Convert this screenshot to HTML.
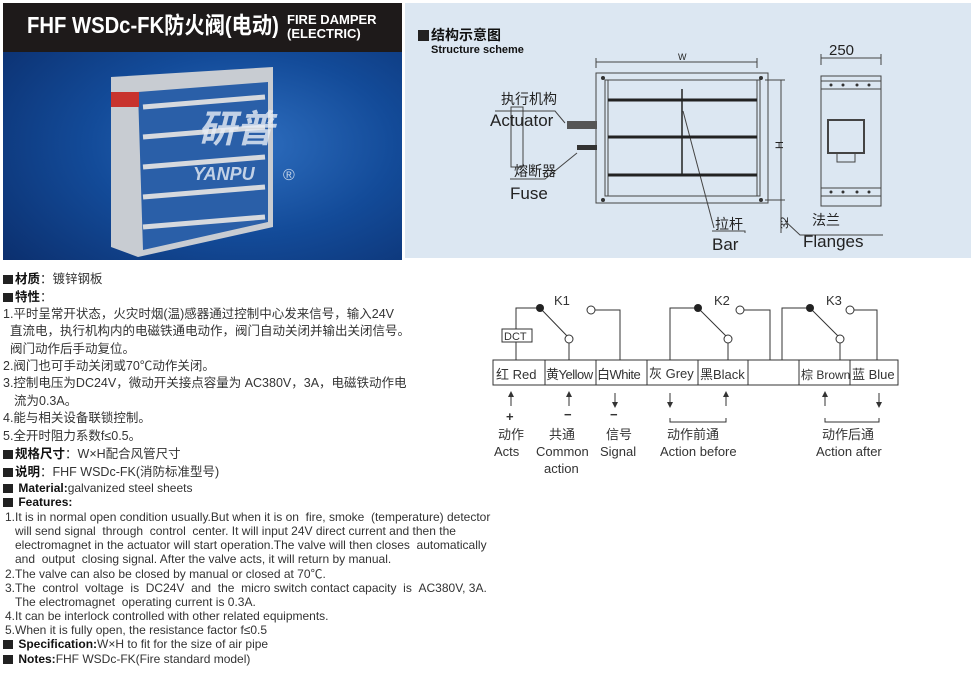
<!DOCTYPE html>
<html><head><meta charset="utf-8"><style>
body{margin:0;width:974px;height:680px;background:#fff;position:relative;overflow:hidden;font-family:"Liberation Sans","Noto Sans CJK SC",sans-serif;color:#333}
.a{position:absolute;white-space:nowrap}
.cn{font-size:12.5px;line-height:17px}
.en{font-size:12px;line-height:14.2px}
.sq{display:inline-block;width:10px;height:9px;background:#222;margin-right:2px;vertical-align:-1px}
b{color:#111}
</style></head><body>
<div class="a" style="left:3px;top:3px;width:399px;height:257px;background:radial-gradient(ellipse at 60% 55%,#2f6fc0 0%,#134b99 45%,#0a2a66 100%)"></div>
<div class="a" style="left:3px;top:3px;width:399px;height:49px;background:#1e1a1a"></div>
<div class="a" style="left:27px;top:12px;color:#fff;font-weight:bold;font-size:23px;line-height:27px;transform:scaleX(0.88);transform-origin:0 0">FHF WSDc-FK防火阀(电动)</div>
<div class="a" style="left:287px;top:13px;color:#fff;font-weight:bold;font-size:13px;line-height:14px">FIRE DAMPER<br>(ELECTRIC)</div>
<svg class="a" style="left:3px;top:52px" width="399" height="208">
<polygon points="108,25 270,15 270,175 135,205 108,195" fill="#c8ccd2"/>
<polygon points="135,40 265,30 265,170 140,198" fill="#2a5fa8"/>
<g stroke="#d6d9de" stroke-width="5"><line x1="140" y1="55" x2="262" y2="45"/><line x1="140" y1="85" x2="262" y2="75"/><line x1="140" y1="115" x2="262" y2="105"/><line x1="140" y1="145" x2="262" y2="135"/><line x1="140" y1="175" x2="262" y2="165"/></g>
<rect x="108" y="40" width="28" height="15" fill="#c8332e"/>
<text x="195" y="90" font-size="38" font-weight="bold" fill="#e8eef6" opacity=".8" font-style="italic" font-family="Noto Sans CJK SC">研普</text>
<text x="190" y="128" font-size="18" font-weight="bold" fill="#e8eef6" opacity=".8" font-style="italic">YANPU</text>
<text x="280" y="128" font-size="16" fill="#e8eef6" opacity=".8">®</text>
</svg>
<div class="a" style="left:405px;top:3px;width:566px;height:255px;background:#dce7f2"></div>
<div class="a" style="left:418px;top:27px;font-weight:bold;font-size:14px;line-height:16px;color:#111"><span class="sq" style="width:11px;height:11px"></span>结构示意图</div>
<div class="a" style="left:431px;top:44px;font-weight:bold;font-size:11px;line-height:13px;color:#111">Structure scheme</div>
<svg class="a" style="left:405px;top:3px" width="566" height="255" font-family="DejaVu Sans, sans-serif">
<g stroke="#444" fill="none" stroke-width="1">
<line x1="191" y1="59" x2="352" y2="59"/><line x1="191" y1="55" x2="191" y2="65"/><line x1="352" y1="55" x2="352" y2="65"/>
<rect x="191" y="70" width="172" height="130"/><rect x="200" y="77" width="155" height="116"/>
<line x1="203" y1="77" x2="203" y2="193"/><line x1="352" y1="77" x2="352" y2="193"/>
<line x1="360" y1="77" x2="380" y2="77"/><line x1="360" y1="197" x2="380" y2="197"/><line x1="376" y1="77" x2="376" y2="230"/>
<line x1="416" y1="55" x2="476" y2="55"/><line x1="416" y1="51" x2="416" y2="62"/><line x1="476" y1="51" x2="476" y2="62"/>
<rect x="416" y="73" width="60" height="130"/><line x1="416" y1="78" x2="476" y2="78"/><line x1="416" y1="86" x2="476" y2="86"/>
<line x1="416" y1="185" x2="476" y2="185"/><line x1="416" y1="193" x2="476" y2="193"/>
<rect x="423" y="117" width="36" height="33" stroke-width="2"/><rect x="432" y="150" width="18" height="9"/>
<polyline points="90,108 150,108 160,120"/><polyline points="105,176 140,176 172,150"/>
<polyline points="307,228 340,228 340,230"/><line x1="278" y1="108" x2="309" y2="225"/>
<polyline points="380,218 395,232 478,232"/>
<rect x="106" y="104" width="12" height="60"/>
</g>
<g stroke="#222" stroke-width="3"><line x1="203" y1="97" x2="352" y2="97"/><line x1="203" y1="134" x2="352" y2="134"/><line x1="203" y1="172" x2="352" y2="172"/></g>
<line x1="277" y1="86" x2="277" y2="172" stroke="#222" stroke-width="1.5"/>
<rect x="162" y="118" width="30" height="8" fill="#555"/><rect x="172" y="142" width="20" height="5" fill="#333"/>
<g fill="#333"><circle cx="198" cy="75" r="2"/><circle cx="356" cy="75" r="2"/><circle cx="198" cy="197" r="2"/><circle cx="356" cy="197" r="2"/>
<circle cx="426" cy="82" r="1.5"/><circle cx="438" cy="82" r="1.5"/><circle cx="452" cy="82" r="1.5"/><circle cx="464" cy="82" r="1.5"/>
<circle cx="426" cy="189" r="1.5"/><circle cx="438" cy="189" r="1.5"/><circle cx="452" cy="189" r="1.5"/><circle cx="464" cy="189" r="1.5"/></g>
<g fill="#222" font-family="Liberation Sans, Noto Sans CJK SC, sans-serif">
<text x="273" y="57" font-size="9">W</text>
<text x="424" y="52" font-size="15">250</text>
<text x="96" y="101" font-size="14">执行机构</text>
<text x="85" y="123" font-size="17">Actuator</text>
<text x="109" y="173" font-size="14">熔断器</text>
<text x="105" y="196" font-size="17">Fuse</text>
<text x="310" y="226" font-size="14">拉杆</text>
<text x="307" y="247" font-size="17">Bar</text>
<text x="407" y="222" font-size="14">法兰</text>
<text x="398" y="244" font-size="17">Flanges</text>
<text x="0" y="0" font-size="11" transform="translate(378,146) rotate(-90)">H</text>
<text x="0" y="0" font-size="11" transform="translate(383,226) rotate(-90)">32</text>
</g>
</svg>
<div class="a cn" style="left:3px;top:271px"><span class="sq"></span><b>材质</b>：镀锌钢板</div>
<div class="a cn" style="left:3px;top:289px"><span class="sq"></span><b>特性</b>：</div>
<div class="a cn" style="left:3px;top:306px">1.平时呈常开状态，火灾时烟(温)感器通过控制中心发来信号，输入24V</div>
<div class="a cn" style="left:10px;top:323px">直流电，执行机构内的电磁铁通电动作，阀门自动关闭并输出关闭信号。</div>
<div class="a cn" style="left:10px;top:341px">阀门动作后手动复位。</div>
<div class="a cn" style="left:3px;top:358px">2.阀门也可手动关闭或70℃动作关闭。</div>
<div class="a cn" style="left:3px;top:375px">3.控制电压为DC24V，微动开关接点容量为 AC380V，3A，电磁铁动作电</div>
<div class="a cn" style="left:14px;top:393px">流为0.3A。</div>
<div class="a cn" style="left:3px;top:410px">4.能与相关设备联锁控制。</div>
<div class="a cn" style="left:3px;top:428px">5.全开时阻力系数f≤0.5。</div>
<div class="a cn" style="left:3px;top:446px"><span class="sq"></span><b>规格尺寸</b>：W×H配合风管尺寸</div>
<div class="a cn" style="left:3px;top:464px"><span class="sq"></span><b>说明</b>：FHF WSDc-FK(消防标准型号)</div>
<div class="a en" style="left:3px;top:481px"><span class="sq"></span> <b>Material:</b>galvanized steel sheets</div>
<div class="a en" style="left:3px;top:495px"><span class="sq"></span> <b>Features:</b></div>
<div class="a en" style="left:5px;top:510px">1.It is in normal open condition usually.But when it is on &nbsp;fire, smoke &nbsp;(temperature) detector</div>
<div class="a en" style="left:15px;top:524px">will send signal &nbsp;through &nbsp;control &nbsp;center. It will input 24V direct current and then the</div>
<div class="a en" style="left:15px;top:538px">electromagnet in the actuator will start operation.The valve will then closes &nbsp;automatically</div>
<div class="a en" style="left:15px;top:552px">and &nbsp;output &nbsp;closing signal. After the valve acts, it will return by manual.</div>
<div class="a en" style="left:5px;top:567px">2.The valve can also be closed by manual or closed at 70℃.</div>
<div class="a en" style="left:5px;top:581px">3.The &nbsp;control &nbsp;voltage &nbsp;is &nbsp;DC24V &nbsp;and &nbsp;the &nbsp;micro switch contact capacity &nbsp;is &nbsp;AC380V, 3A.</div>
<div class="a en" style="left:15px;top:595px">The electromagnet &nbsp;operating current is 0.3A.</div>
<div class="a en" style="left:5px;top:609px">4.It can be interlock controlled with other related equipments.</div>
<div class="a en" style="left:5px;top:623px">5.When it is fully open, the resistance factor f≤0.5</div>
<div class="a en" style="left:3px;top:637px"><span class="sq"></span> <b>Specification:</b>W×H to fit for the size of air pipe</div>
<div class="a en" style="left:3px;top:652px"><span class="sq"></span> <b>Notes:</b>FHF WSDc-FK(Fire standard model)</div>
<svg class="a" style="left:490px;top:285px" width="420" height="195" font-family="Liberation Sans, Noto Sans CJK SC, sans-serif">
<g stroke="#333" fill="none" stroke-width="1">
<rect x="3" y="75" width="405" height="25"/>
<line x1="55" y1="75" x2="55" y2="100"/><line x1="106" y1="75" x2="106" y2="100"/><line x1="157" y1="75" x2="157" y2="100"/><line x1="208" y1="75" x2="208" y2="100"/><line x1="258" y1="75" x2="258" y2="100"/><line x1="309" y1="75" x2="309" y2="100"/><line x1="360" y1="75" x2="360" y2="100"/>
<polyline points="26,75 26,23 50,23"/><line x1="50" y1="23" x2="79" y2="53"/><line x1="79" y1="57" x2="79" y2="75"/>
<polyline points="105,25 130,25 130,75"/>
<polyline points="180,75 180,23 208,23"/><line x1="208" y1="23" x2="238" y2="53"/><line x1="238" y1="57" x2="238" y2="75"/>
<polyline points="254,25 280,25 280,75"/>
<polyline points="292,75 292,23 320,23"/><line x1="320" y1="23" x2="350" y2="53"/><line x1="350" y1="57" x2="350" y2="75"/>
<polyline points="364,25 387,25 387,75"/>
<rect x="12" y="44" width="30" height="13" fill="#fff"/>
<polyline points="180,133 180,137 236,137 236,133"/><polyline points="335,133 335,137 389,137 389,133"/>
<line x1="21" y1="108" x2="21" y2="121"/><line x1="79" y1="108" x2="79" y2="121"/><line x1="125" y1="108" x2="125" y2="121"/><line x1="180" y1="108" x2="180" y2="121"/><line x1="236" y1="108" x2="236" y2="121"/><line x1="335" y1="108" x2="335" y2="121"/><line x1="389" y1="108" x2="389" y2="121"/>
</g>
<g fill="#333"><polygon points="21,106 18,112 24,112"/><polygon points="79,106 76,112 82,112"/><polygon points="125,123 122,117 128,117"/><polygon points="180,123 177,117 183,117"/><polygon points="236,106 233,112 239,112"/><polygon points="335,106 332,112 338,112"/><polygon points="389,123 386,117 392,117"/></g>
<g fill="#222"><circle cx="50" cy="23" r="4"/><circle cx="208" cy="23" r="4"/><circle cx="320" cy="23" r="4"/></g>
<g fill="#fff" stroke="#333"><circle cx="79" cy="54" r="4"/><circle cx="101" cy="25" r="4"/><circle cx="238" cy="54" r="4"/><circle cx="250" cy="25" r="4"/><circle cx="350" cy="54" r="4"/><circle cx="360" cy="25" r="4"/></g>
<g fill="#333" font-size="13">
<text x="64" y="20">K1</text><text x="224" y="20">K2</text><text x="336" y="20">K3</text>
<text x="14" y="55" font-size="11">DCT</text>
<text x="6" y="94">红 Red</text><text x="56" y="94" letter-spacing="-0.5">黄Yellow</text><text x="107" y="94" letter-spacing="-0.5">白White</text><text x="159" y="93">灰 Grey</text><text x="210" y="94">黑Black</text><text x="311" y="94" font-size="12">棕 Brown</text><text x="362" y="94">蓝 Blue</text>
<text x="16" y="136" font-weight="bold">+</text><text x="74" y="134" font-weight="bold">−</text><text x="120" y="134" font-weight="bold">−</text>
<text x="8" y="154">动作</text><text x="4" y="171">Acts</text>
<text x="59" y="154">共通</text><text x="46" y="171">Common</text><text x="54" y="188">action</text>
<text x="116" y="154">信号</text><text x="110" y="171">Signal</text>
<text x="177" y="154">动作前通</text><text x="170" y="171">Action before</text>
<text x="332" y="154">动作后通</text><text x="326" y="171">Action after</text>
</g>
</svg>
</body></html>
